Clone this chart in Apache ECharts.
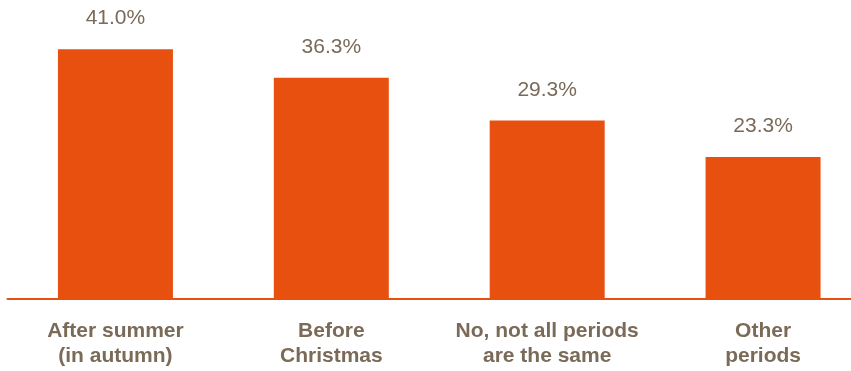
<!DOCTYPE html>
<html>
<head>
<meta charset="utf-8">
<script src="https://cdn.jsdelivr.net/npm/echarts@6/dist/echarts.min.js"></script>
<style>
  html, body { margin: 0; padding: 0; background: #ffffff; }
  #chart { width: 851px; height: 371px; }
</style>
</head>
<body>
<div id="chart"></div>
<script>
// Share of answers per period
const categories = ['After summer\n(in autumn)', 'Before\nChristmas', 'No, not all periods\nare the same', 'Other\nperiods'];
const values = [41.0, 36.3, 29.3, 23.3];

const barColor = '#E8500F';
const textColor = '#7A6A58';

const chart = echarts.init(document.getElementById('chart'));
chart.setOption({
  animation: false,
  grid: {
    left: 7.5, top: 26, bottom: 72, right: -20,
    containLabel: false,
    outerBoundsMode: 'none'
  },
  xAxis: {
    type: 'category',
    data: categories,
    axisTick: { show: false },
    axisLine: { show: true, lineStyle: { color: barColor, width: 2 } },
    axisLabel: {
      interval: 0,
      margin: 20,
      color: textColor,
      fontFamily: 'Liberation Sans, Arial, sans-serif',
      fontWeight: 'bold',
      fontSize: 21,
      lineHeight: 25,
      align: 'center'
    },
    z: 5
  },
  yAxis: {
    type: 'value',
    min: 0,
    max: 44.8,
    show: false,
    splitLine: { show: false }
  },
  series: [{
    type: 'bar',
    data: values,
    barWidth: 115,
    itemStyle: { color: barColor },
    label: {
      show: true,
      position: 'top',
      distance: 20,
      color: textColor,
      fontFamily: 'Liberation Sans, Arial, sans-serif',
      fontSize: 21,
      formatter: p => p.value.toFixed(1) + '%'
    }
  }]
});
</script>
</body>
</html>
